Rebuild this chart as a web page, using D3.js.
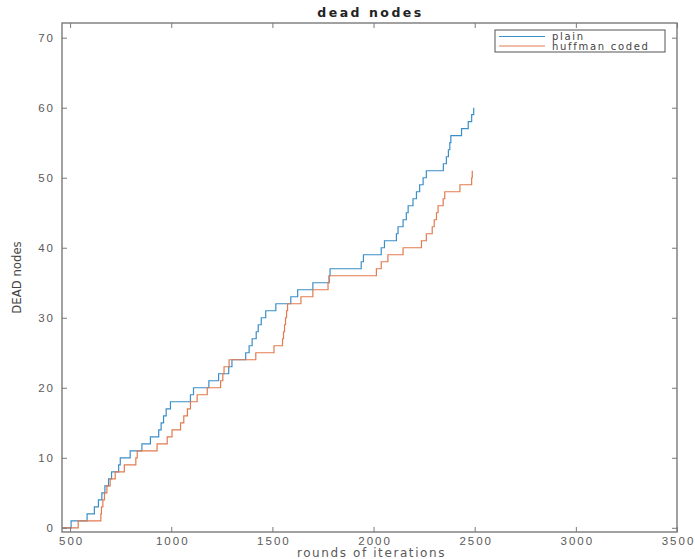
<!DOCTYPE html>
<html>
<head>
<meta charset="utf-8">
<script src="https://cdn.jsdelivr.net/npm/d3@7"></script>
<style>
  body { margin: 0; background: #fff; }
  svg { display: block; }
</style>
</head>
<body>
<main></main>
<script>
// step points: round where the count changes, and the new count
const plainRounds = [
  460, 505, 584, 620, 640, 657, 672, 690, 705, 740, 748, 797, 855, 897, 938,
  950, 962, 975, 996, 1095, 1110, 1186, 1234, 1284, 1300, 1368, 1385, 1400,
  1420, 1430, 1445, 1467, 1517, 1591, 1625, 1700, 1780, 1785, 1939, 1950,
  2038, 2054, 2113, 2121, 2146, 2162, 2171, 2195, 2212, 2228, 2245, 2261,
  2345, 2360, 2370, 2377, 2382, 2435, 2468, 2485, 2495,
];
const plainDead = [
  0, 1, 2, 3, 4, 5, 6, 7, 8, 9, 10, 11, 12, 13, 14, 15, 16, 17, 18, 19, 20,
  21, 22, 23, 24, 25, 26, 27, 28, 29, 30, 31, 32, 33, 34, 35, 36, 37, 38, 39,
  40, 41, 42, 43, 44, 45, 46, 47, 48, 49, 50, 51, 52, 53, 54, 55, 56, 57, 58,
  59, 60,
];

const huffmanRounds = [
  460, 540, 652, 655, 662, 670, 682, 698, 723, 768, 825, 832, 930, 980, 1004,
  1046, 1062, 1080, 1095, 1128, 1178, 1244, 1255, 1261, 1286, 1418, 1508,
  1550, 1555, 1560, 1565, 1570, 1575, 1641, 1700, 1775, 1782, 2014, 2038,
  2071, 2146, 2237, 2261, 2290, 2300, 2311, 2319, 2344, 2352, 2427, 2485, 2488,
];
const huffmanDead = [
  0, 1, 2, 3, 4, 5, 6, 7, 8, 9, 10, 11, 12, 13, 14, 15, 16, 17, 18, 19, 20,
  21, 22, 23, 24, 25, 26, 27, 28, 29, 30, 31, 32, 33, 34, 35, 36, 37, 38, 39,
  40, 41, 42, 43, 44, 45, 46, 47, 48, 49, 50, 51,
];

const seriesNames = ['plain', 'huffman coded'];
const seriesColors = ['#3a8fc8', '#e27b50'];
const xTicks = [500, 1000, 1500, 2000, 2500, 3000, 3500];
const yTicks = [0, 10, 20, 30, 40, 50, 60, 70];

const series = [
  { name: seriesNames[0], color: seriesColors[0],
    values: plainRounds.map((r, i) => ({ round: r, dead: plainDead[i] })) },
  { name: seriesNames[1], color: seriesColors[1],
    values: huffmanRounds.map((r, i) => ({ round: r, dead: huffmanDead[i] })) },
];

const dimensions = {
  width: 695,
  height: 559,
  margin: { top: 23, right: 18, bottom: 27, left: 62 },
};
dimensions.boundedWidth =
  dimensions.width - (dimensions.margin.left + dimensions.margin.right);
dimensions.boundedHeight =
  dimensions.height - (dimensions.margin.top + dimensions.margin.bottom);

const svg = d3
  .select('main')
  .append('svg')
  .attr('width', dimensions.width)
  .attr('height', dimensions.height)
  .style('font-family', '"DejaVu Sans", sans-serif');

const bounds = svg
  .append('g')
  .attr('transform', `translate(${dimensions.margin.left} ${dimensions.margin.top})`);

const xScale = d3
  .scaleLinear()
  .domain([460, 3500])
  .range([0, dimensions.boundedWidth]);

const yScale = d3
  .scaleLinear()
  .domain([-0.6, 72.1])
  .range([dimensions.boundedHeight, 0]);

const axisColor = '#7a7a7a';
const labelColor = '#5a5a5a';

// lines first so the box sits on top
const lineGenerator = d3
  .line()
  .x(d => xScale(d.round))
  .y(d => yScale(d.dead))
  .curve(d3.curveStepAfter);

bounds
  .append('g')
  .selectAll('path')
  .data(series)
  .join('path')
  .attr('fill', 'none')
  .attr('stroke', d => d.color)
  .attr('stroke-width', 1.2)
  .attr('d', d => lineGenerator(d.values));

// inward ticks on all four sides, like a boxed axes
// the picture is stretched sideways, so the labels get extra letter spacing
const styleAxis = g => {
  g.select('.domain').remove();
  g.selectAll('line').attr('stroke', axisColor).attr('stroke-width', 1);
  g.selectAll('text')
    .attr('fill', labelColor)
    .attr('font-size', 11.5)
    .attr('letter-spacing', 2);
};

bounds
  .append('g')
  .attr('transform', `translate(0 ${dimensions.boundedHeight})`)
  .call(
    d3.axisBottom(xScale)
      .tickValues(xTicks)
      .tickSize(-5)
      .tickPadding(5)
      .tickFormat(d3.format('d'))
  )
  .call(styleAxis)
  .call(g => g.selectAll('text').attr('dx', 1));

bounds
  .append('g')
  .call(d3.axisTop(xScale).tickValues(xTicks).tickSize(-5).tickFormat(''))
  .call(styleAxis);

bounds
  .append('g')
  .call(d3.axisLeft(yScale).tickValues(yTicks).tickSize(-5).tickPadding(7))
  .call(styleAxis);

bounds
  .append('g')
  .attr('transform', `translate(${dimensions.boundedWidth} 0)`)
  .call(d3.axisRight(yScale).tickValues(yTicks).tickSize(-5).tickFormat(''))
  .call(styleAxis);

bounds
  .append('rect')
  .attr('width', dimensions.boundedWidth)
  .attr('height', dimensions.boundedHeight)
  .attr('fill', 'none')
  .attr('stroke', axisColor)
  .attr('stroke-width', 1.4);

// title and axis labels
svg
  .append('text')
  .attr('x', dimensions.margin.left + dimensions.boundedWidth / 2 + 1)
  .attr('y', 17)
  .attr('text-anchor', 'middle')
  .attr('font-size', 12.5)
  .attr('font-weight', 'bold')
  .attr('letter-spacing', 2.5)
  .attr('fill', '#222')
  .text('dead nodes');

svg
  .append('text')
  .attr('x', dimensions.margin.left + dimensions.boundedWidth / 2 + 2)
  .attr('y', 557)
  .attr('text-anchor', 'middle')
  .attr('font-size', 12)
  .attr('letter-spacing', 1.6)
  .attr('fill', labelColor)
  .text('rounds of iterations');

svg
  .append('text')
  .attr('transform', `translate(21 ${dimensions.margin.top + dimensions.boundedHeight / 2}) rotate(-90)`)
  .attr('text-anchor', 'middle')
  .attr('font-family', '"DejaVu Sans Condensed", "DejaVu Sans", sans-serif')
  .attr('font-stretch', 'condensed')
  .attr('font-size', 13)
  .attr('fill', '#444')
  .text('DEAD nodes');

// legend
const legend = svg.append('g').attr('transform', 'translate(495 30)');

legend
  .append('rect')
  .attr('width', 170)
  .attr('height', 22)
  .attr('fill', '#fff')
  .attr('stroke', '#555')
  .attr('stroke-width', 1);

const legendItem = legend
  .selectAll('g')
  .data(series)
  .join('g')
  .attr('transform', (d, i) => `translate(0 ${6.5 + i * 9.5})`);

legendItem
  .append('line')
  .attr('x1', 4)
  .attr('x2', 50)
  .attr('stroke', d => d.color)
  .attr('stroke-width', 1);

legendItem
  .append('text')
  .attr('x', 57)
  .attr('dy', '0.35em')
  .attr('font-size', 10)
  .attr('letter-spacing', 1.7)
  .attr('fill', '#444')
  .text(d => d.name);
</script>
</body>
</html>
